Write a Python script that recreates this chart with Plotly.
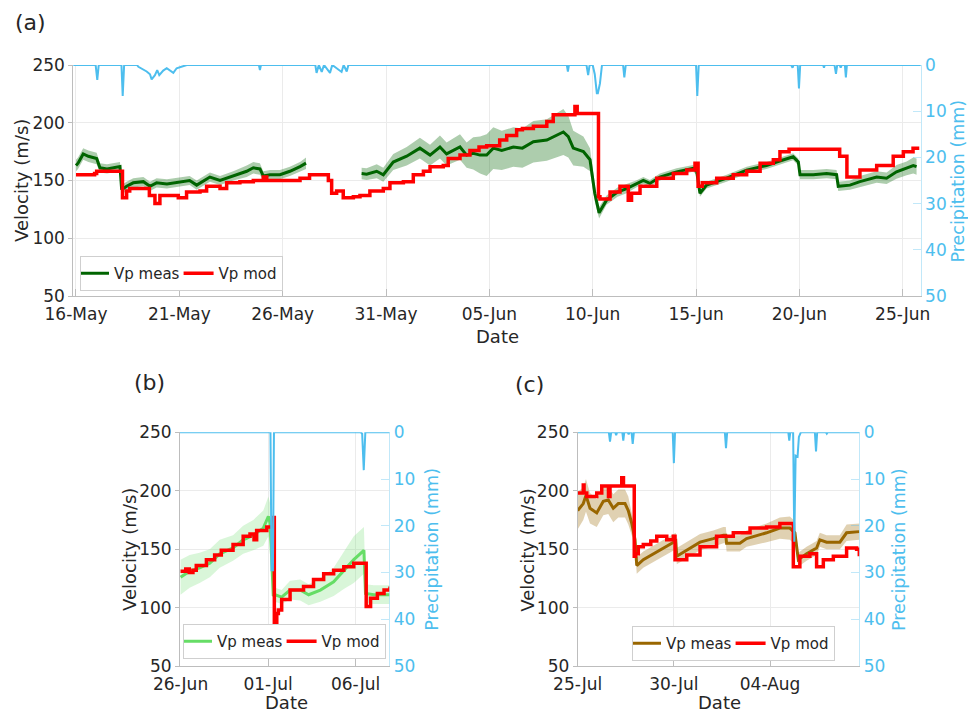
import pandas as pd
import plotly.graph_objects as go

W, H = 968, 712

# ---------------- panel (a): days counted from 16-May ----------------
a_start = '2021-05-16'
a_meas1_t = [0.0, 0.1, 0.35, 0.6, 1.0, 1.16, 1.5, 2.13, 2.21, 2.45,
             2.77, 3.26, 3.58, 3.9, 4.4, 4.87, 5.5, 5.84, 6.48, 6.97,
             7.61, 8.26, 8.58, 8.9, 9.06, 9.39, 9.87, 10.35, 10.84, 11.13]
a_meas1_v = [163, 165, 173, 171, 169, 161, 160, 162, 142, 145,
             148, 149, 145, 148, 147, 148, 150, 146, 153, 150,
             154, 158, 161, 160, 154, 155, 155, 158, 162, 165]
a_meas1_sd = [5, 5, 5, 5, 5, 4, 4, 4, 4, 4,
              4, 4, 4, 4, 4, 4, 4, 4, 4, 4,
              4, 5, 5, 5, 4, 4, 4, 4, 4, 5]
a_meas2_t = [13.82, 14.06, 14.55, 14.87, 15.35, 16.0, 16.64, 17.13, 17.61, 17.93,
             18.58, 18.9, 19.22, 19.55, 19.87, 20.19, 20.6, 21.16, 21.6, 22.13,
             22.78, 23.26, 23.58, 23.82, 24.06, 24.55, 24.87, 25.1, 25.31, 25.67,
             26.2, 26.64, 27.1, 27.45, 27.77, 28.25, 29.06, 29.86, 30.03, 30.19,
             30.51, 31.48, 32.45, 33.41, 33.9, 34.38, 34.7, 34.95, 35.03, 35.67,
             36.32, 36.8, 36.88, 37.45, 37.93, 38.74, 39.22, 39.7, 40.19, 40.51,
             40.67]
a_meas2_v = [156, 155.5, 158, 155, 166, 171, 178, 172, 179, 173,
             179, 172, 173.5, 172, 172, 178, 176, 179, 178, 183.5,
             185, 189, 192, 188, 178, 175, 168, 139, 122, 133,
             140, 143, 147, 150, 147.5, 153, 157.5, 160.5, 158, 139,
             146, 152, 159, 163, 166, 169, 170.5, 166, 155, 155,
             156, 155, 145, 146, 149, 153, 152, 157.5, 160.5, 163,
             162]
a_meas2_sd = [5, 5, 6, 6, 7, 8, 9, 9, 10, 10,
              11, 11, 14, 16, 18, 18, 17, 17, 17, 18,
              18, 19, 20, 18, 15, 13, 10, 7, 5, 4,
              4, 4, 3, 3, 3, 3, 3, 3, 3, 3,
              3, 3, 3, 3, 3, 3, 3, 3, 4, 4,
              4, 4, 4, 4, 5, 5, 5, 6, 6, 7,
              7]
a_mod_t = [0.0, 0.5, 0.9, 1.0, 2.2, 2.25, 2.45, 2.6, 3.4, 3.55,
           3.82, 4.06, 4.6, 4.95, 5.35, 6.0, 6.32, 6.97, 7.29, 7.93,
           8.58, 9.06, 9.23, 10.03, 10.84, 11.3, 11.97, 12.21, 12.37, 12.61,
           12.93, 13.42, 13.74, 14.22, 14.87, 15.19, 15.84, 16.32, 16.81, 17.13,
           17.77, 18.01, 18.58, 19.06, 19.5, 19.87, 20.5, 20.84, 21.32, 21.6,
           22.13, 22.78, 23.09, 23.74, 24.14, 24.25, 25.22, 25.28, 25.35, 25.84,
           26.32, 26.64, 26.72, 26.88, 27.29, 28.1, 28.9, 29.55, 29.95, 30.1,
           30.3, 31.0, 31.8, 32.45, 33.1, 33.74, 34.06, 34.5, 35.5, 36.5,
           36.95, 37.3, 37.93, 38.74, 39.54, 40.03, 40.5, 40.8]
a_mod_v = [155, 155, 156, 158, 158, 135, 141, 143, 143, 137,
           130, 137, 137, 135, 140, 141, 145, 143, 148, 149,
           150, 153, 150, 150, 152, 155, 155, 150, 139, 141,
           135, 136, 137, 141, 143, 148, 149, 155, 158, 162,
           163, 169, 172, 176, 179, 180, 185, 189, 194, 195,
           197, 201, 207, 207, 214, 208, 208, 136, 134, 140,
           145, 145, 133, 139, 145, 152, 156, 159, 165, 145,
           148, 152, 155, 158, 165, 168, 175, 177, 177, 177,
           171, 153, 159, 163, 171, 175, 178, 178]
a_rain_t = [-0.2, 0.95, 1.03, 1.1, 2.2, 2.26, 2.33, 2.95, 3.02, 3.42,
            3.58, 3.66, 3.82, 3.93, 4.03, 4.22, 4.39, 4.71, 4.87, 5.11,
            5.36, 8.85, 8.9, 8.95, 11.58, 11.64, 11.75, 11.89, 12.0, 12.29,
            12.4, 12.85, 12.95, 13.1, 13.18, 23.75, 23.8, 23.85, 24.7, 24.78,
            24.85, 25.0, 25.1, 25.2, 25.25, 25.35, 25.45, 26.47, 26.53, 26.6,
            30.0, 30.06, 30.13, 34.6, 34.67, 34.72, 34.92, 34.98, 35.04, 36.15,
            36.19, 36.23, 36.7, 36.77, 36.83, 36.95, 37.0, 37.05, 37.2, 37.25,
            37.3, 41.0]
a_rain_v = [0, 0, 3.2, 0, 0, 6.7, 0, 0, 0.4, 1.4,
            2.0, 3.1, 2.2, 1.1, 2.2, 1.2, 0.7, 1.7, 0.7, 0.4,
            0, 0, 1.1, 0, 0, 1.7, 0, 1.5, 0, 1.7,
            0, 1.5, 0, 1.4, 0, 0, 1.4, 0, 0, 2.2,
            0, 0, 2.0, 6.1, 6.1, 4.0, 0, 0, 2.7, 0,
            0, 6.7, 0, 0, 0.6, 0, 0, 5.1, 0, 0,
            0.6, 0, 0, 1.9, 0, 0, 0.6, 0, 0, 2.7,
            0, 0]
a_ticks = ['2021-05-16', '2021-05-21', '2021-05-26', '2021-05-31', '2021-06-05',
           '2021-06-10', '2021-06-15', '2021-06-20', '2021-06-25']
a_ticktext = ['16-May', '21-May', '26-May', '31-May', '05-Jun',
              '10-Jun', '15-Jun', '20-Jun', '25-Jun']

# ---------------- panel (b): days counted from 26-Jun ----------------
b_start = '2021-06-26'
b_meas_t = [0.0, 0.52, 1.09, 1.67, 2.24, 3.0, 3.58, 4.16, 4.73, 5.02,
            5.12, 5.3, 5.4, 5.78, 6.26, 6.84, 7.32, 7.99, 8.75, 9.33,
            9.9, 10.48, 10.57, 11.05, 11.97]
b_meas_v = [126, 131, 134, 138, 146, 151, 158, 162, 168, 178,
            172, 110, 111, 109, 115, 115, 111, 115, 122, 132,
            141, 149, 112, 111, 111]
b_meas_sd = [15, 14, 13, 12, 12, 11, 12, 13, 15, 17,
             17, 6, 6, 6, 8, 9, 9, 10, 12, 16,
             20, 20, 8, 8, 8]
b_mod_t = [0.0, 0.3, 0.5, 0.71, 0.9, 1.48, 1.95, 2.33, 3.0, 3.58,
           3.97, 4.2, 4.35, 4.93, 5.21, 5.3, 5.36, 5.42, 5.5, 5.59,
           5.78, 6.26, 7.03, 7.6, 8.18, 8.75, 9.33, 9.9, 10.5, 10.56,
           10.61, 10.86, 11.25, 11.63, 11.97]
b_mod_v = [131, 133, 130, 132, 136, 141, 145, 149, 154, 161,
           163, 158, 166, 169, 169, 177, 87, 86, 95, 98,
           107, 115, 118, 124, 129, 132, 135, 138, 138, 138,
           101, 108, 112, 115, 118]
b_rain_t = [-0.1, 5.14, 5.2, 5.28, 5.34, 10.3, 10.38, 10.47, 10.56, 12.0]
b_rain_v = [0, 0, 29.5, 29.5, 0, 0, 0.3, 8.1, 0, 0]
b_ticks = ['2021-06-26', '2021-07-01', '2021-07-06']
b_ticktext = ['26-Jun', '01-Jul', '06-Jul']

# ---------------- panel (c): days counted from 25-Jul ----------------
c_start = '2021-07-25'
c_meas_t = [0.0, 0.29, 0.43, 0.64, 0.99, 1.33, 1.59, 1.85, 2.11, 2.46,
            2.63, 2.81, 2.98, 3.07, 3.41, 3.93, 4.45, 4.97, 5.1, 5.15,
            5.67, 6.36, 7.05, 7.57, 7.7, 7.74, 8.43, 8.78, 9.82, 10.51,
            11.03, 11.29, 11.47, 11.9, 12.42, 12.59, 12.94, 13.63, 13.98, 14.64]
c_meas_v = [183, 189, 196, 185, 181, 191, 192, 185, 189, 189,
            183, 172, 158, 136, 141, 146, 151, 156, 157, 144,
            149, 156, 159, 162, 162, 155, 155, 159, 164, 168,
            168, 164, 141, 146, 151, 158, 156, 156, 164, 165]
c_meas_sd = [16, 14, 14, 13, 12, 12, 12, 12, 12, 12,
             12, 10, 9, 7, 7, 7, 7, 7, 7, 7,
             7, 7, 7, 7, 7, 7, 7, 7, 8, 9,
             10, 10, 6, 6, 6, 6, 6, 6, 7, 7]
c_mod_t = [0.0, 0.25, 0.29, 0.33, 0.47, 0.81, 0.99, 1.25, 1.51, 1.6,
           1.68, 1.77, 2.2, 2.29, 2.38, 2.9, 2.94, 3.0, 3.15, 3.41,
           3.8, 4.11, 4.63, 4.97, 5.06, 5.67, 6.36, 7.22, 8.09, 8.96,
           9.82, 10.51, 11.12, 11.21, 11.55, 12.07, 12.3, 12.42, 12.77, 13.29,
           13.98, 14.5, 14.64]
c_mod_v = [198, 198, 205, 198, 195, 195, 198, 204, 204, 195,
           204, 204, 204, 211, 204, 204, 144, 146, 152, 154,
           157, 161, 158, 161, 141, 145, 152, 161, 164, 168,
           169, 172, 172, 135, 144, 146, 146, 135, 141, 144,
           151, 150, 144]
c_rain_t = [-0.1, 1.62, 1.68, 1.74, 1.95, 2.0, 2.05, 2.32, 2.37, 2.42,
            2.6, 2.65, 2.7, 2.8, 2.86, 2.92, 4.94, 5.0, 5.06, 7.65,
            7.71, 7.77, 10.95, 11.0, 11.05, 11.2, 11.26, 11.33, 11.43, 11.5,
            11.6, 12.33, 12.39, 12.45, 12.9, 12.95, 13.0, 14.8]
c_rain_v = [0, 0, 2.0, 0, 0, 0.6, 0, 0, 1.8, 0,
            0, 0.4, 0, 0, 2.5, 0, 0, 6.6, 0, 0,
            3.4, 0, 0, 1.8, 0, 0, 23.4, 5.0, 5.2, 1.0,
            0, 0, 4.1, 0, 0, 0.3, 0, 0]
c_ticks = ['2021-07-25', '2021-07-30', '2021-08-04']
c_ticktext = ['25-Jul', '30-Jul', '04-Aug']

RED = '#FF0000'
BLUE = '#4DBEEE'
INK = '#262626'
AXC = '#BDBDBD'
GRID = '#EBEBEB'
FONT = 'DejaVu Sans'


def dates(start, days):
    return pd.Timestamp(start) + pd.to_timedelta(pd.Series(days), unit='D')


def px(x):
    return x / W


def py(y):
    return 1 - y / H


fig = go.Figure()


def add_meas(start, t, v, sd, color, band, xa, ya, legend, show):
    x = dates(start, t)
    lo = [a - b for a, b in zip(v, sd)]
    hi = [a + b for a, b in zip(v, sd)]
    fig.add_trace(go.Scatter(x=x, y=lo, mode='lines', line=dict(width=0),
                             xaxis=xa, yaxis=ya, showlegend=False, hoverinfo='skip'))
    fig.add_trace(go.Scatter(x=x, y=hi, mode='lines', line=dict(width=0),
                             fill='tonexty', fillcolor=band,
                             xaxis=xa, yaxis=ya, showlegend=False, hoverinfo='skip'))
    fig.add_trace(go.Scatter(x=x, y=v, mode='lines', name='Vp meas',
                             line=dict(color=color, width=3),
                             xaxis=xa, yaxis=ya, legend=legend,
                             legendgroup=legend + 'meas', showlegend=show))


def add_mod(start, t, v, xa, ya, legend):
    fig.add_trace(go.Scatter(x=dates(start, t), y=v, mode='lines', name='Vp mod',
                             line=dict(color=RED, width=3.5, shape='hv'),
                             xaxis=xa, yaxis=ya, legend=legend))


def add_rain(start, t, v, xa, ya):
    fig.add_trace(go.Scatter(x=dates(start, t), y=v, mode='lines', name='Precipitation',
                             line=dict(color=BLUE, width=2),
                             xaxis=xa, yaxis=ya, showlegend=False))


# (a)
add_meas(a_start, a_meas1_t, a_meas1_v, a_meas1_sd, '#006400', 'rgba(0,100,0,0.32)',
         'x', 'y', 'legend', True)
add_meas(a_start, a_meas2_t, a_meas2_v, a_meas2_sd, '#006400', 'rgba(0,100,0,0.32)',
         'x', 'y', 'legend', False)
add_mod(a_start, a_mod_t, a_mod_v, 'x', 'y', 'legend')
add_rain(a_start, a_rain_t, a_rain_v, 'x', 'y2')

# (b)
add_meas(b_start, b_meas_t, b_meas_v, b_meas_sd, '#66DD66', 'rgba(102,221,102,0.25)',
         'x2', 'y3', 'legend2', True)
add_mod(b_start, b_mod_t, b_mod_v, 'x2', 'y3', 'legend2')
add_rain(b_start, b_rain_t, b_rain_v, 'x2', 'y4')

# (c)
add_meas(c_start, c_meas_t, c_meas_v, c_meas_sd, '#996600', 'rgba(153,102,0,0.3)',
         'x3', 'y5', 'legend3', True)
add_mod(c_start, c_mod_t, c_mod_v, 'x3', 'y5', 'legend3')
add_rain(c_start, c_rain_t, c_rain_v, 'x3', 'y6')

tickfont = dict(family=FONT, size=17, color=INK)
bluefont = dict(family=FONT, size=17, color=BLUE)


def xaxis(dom, anchor, rng, ticks, text):
    return dict(domain=dom, anchor=anchor, range=rng, tickvals=ticks, ticktext=text,
                showline=True, linecolor=AXC, linewidth=1, mirror=False,
                ticks='inside', ticklen=7, tickcolor=AXC,
                showgrid=True, gridcolor=GRID, zeroline=False,
                tickfont=tickfont, ticklabelstandoff=3, automargin=False)


def vaxis(dom, anchor):
    return dict(domain=dom, anchor=anchor, range=[50, 250], tickvals=[50, 100, 150, 200, 250],
                showline=True, linecolor=AXC, linewidth=1,
                ticks='outside', ticklen=4, tickcolor=AXC,
                showgrid=True, gridcolor=GRID, zeroline=False, tickfont=tickfont,
                automargin=False)


def paxis(over, anchor):
    return dict(overlaying=over, anchor=anchor, side='right', range=[50, 0],
                tickvals=[0, 10, 20, 30, 40, 50],
                showline=True, linecolor='rgba(77,190,238,0.35)', linewidth=1,
                ticks='inside', ticklen=8, tickcolor='rgba(77,190,238,0.35)',
                showgrid=False, zeroline=False, tickfont=bluefont, automargin=False)


ya_dom = [py(296), py(65)]
yb_dom = [py(666), py(432.3)]


def rng(start, a, b):
    s = dates(start, [a, b])
    return [s.iloc[0], s.iloc[1]]


legend_common = dict(orientation='h', bgcolor='white', bordercolor='#CFCFCF', borderwidth=1,
                     font=dict(family=FONT, size=15, color=INK),
                     xanchor='left', yanchor='bottom', tracegroupgap=0, indentation=-6)

fig.update_layout(
    width=W, height=H,
    margin=dict(l=0, r=0, t=0, b=0, autoexpand=False),
    paper_bgcolor='white', plot_bgcolor='white',
    font=dict(family=FONT, color=INK),
    xaxis=xaxis([px(73.3), px(920.7)], 'y', rng(a_start, -0.13, 40.87), a_ticks, a_ticktext),
    yaxis=vaxis(ya_dom, 'x'),
    yaxis2=paxis('y', 'x'),
    xaxis2=xaxis([px(180), px(389.3)], 'y3', rng(b_start, -0.03, 11.93), b_ticks, b_ticktext),
    yaxis3=vaxis(yb_dom, 'x2'),
    yaxis4=paxis('y3', 'x2'),
    xaxis3=xaxis([px(577.7), px(859.3)], 'y5', rng(c_start, 0.0, 14.64), c_ticks, c_ticktext),
    yaxis5=vaxis(yb_dom, 'x3'),
    yaxis6=paxis('y5', 'x3'),
    legend=dict(legend_common, x=px(80), y=py(291)),
    legend2=dict(legend_common, x=px(183), y=py(659)),
    legend3=dict(legend_common, x=px(632), y=py(661)),
)

labels = [
    ('(a)', 13, 22, 0, INK, 22, 'left'),
    ('(b)', 131.7, 382, 0, INK, 22, 'left'),
    ('(c)', 513, 384, 0, INK, 22, 'left'),
    ('Velocity (m/s)', 21, 181, -90, INK, 18, 'center'),
    ('Precipitation (mm)', 957.5, 181, -90, BLUE, 17.5, 'center'),
    ('Date', 497, 336, 0, INK, 18, 'center'),
    ('Velocity (m/s)', 129, 550, -90, INK, 18, 'center'),
    ('Precipitation (mm)', 431.7, 549, -90, BLUE, 17.5, 'center'),
    ('Date', 286, 702, 0, INK, 18, 'center'),
    ('Velocity (m/s)', 526.7, 550, -90, INK, 18, 'center'),
    ('Precipitation (mm)', 899, 550, -90, BLUE, 17.5, 'center'),
    ('Date', 719, 702, 0, INK, 18, 'center'),
]
for text, x, y, ang, col, size, anchor in labels:
    fig.add_annotation(text=text, x=px(x), y=py(y), xref='paper', yref='paper',
                       xanchor=anchor, yanchor='middle', textangle=ang, showarrow=False,
                       font=dict(family=FONT, size=size, color=col))

# page body has a default 8px margin; drop it so the figure sits at the window corner
fig.write_html('out.html', config={'displayModeBar': False},
               post_script="document.body.style.margin='0';")
